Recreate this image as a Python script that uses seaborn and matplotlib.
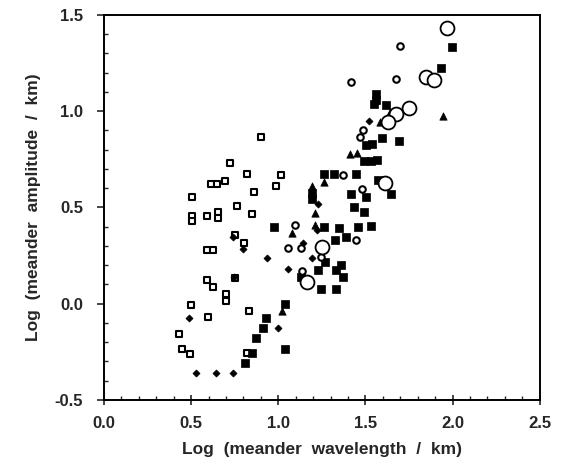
import matplotlib
matplotlib.use("Agg")
import matplotlib.pyplot as plt
import seaborn as sns
import pandas as pd
from matplotlib.ticker import MultipleLocator

# open squares
sq_open_x = [0.898, 0.721, 0.818, 1.018, 0.612, 0.646, 0.692, 0.984, 0.858, 0.503,
             0.761, 0.503, 0.503, 0.589, 0.652, 0.652, 0.847, 0.749, 0.801, 0.589,
             0.624, 0.749, 0.589, 0.624, 0.698, 0.698, 0.498, 0.830, 0.595, 0.429,
             0.446, 0.492, 0.818]
sq_open_y = [0.868, 0.730, 0.672, 0.667, 0.621, 0.621, 0.638, 0.609, 0.580, 0.552,
             0.506, 0.458, 0.432, 0.458, 0.474, 0.443, 0.464, 0.359, 0.313, 0.281,
             0.281, 0.135, 0.125, 0.089, 0.052, 0.016, -0.005, -0.037, -0.069, -0.156,
             -0.234, -0.261, -0.257]

# small filled diamonds
dia_x = [0.738, 0.795, 0.938, 1.144, 1.053, 1.196, 0.744, 1.001, 0.486, 0.526,
         0.641, 0.738, 1.230, 1.224, 1.522]
dia_y = [0.344, 0.286, 0.240, 0.318, 0.182, 0.240, 0.141, -0.124, -0.073, -0.362,
         -0.362, -0.362, 0.517, 0.385, 0.948]

# filled squares
sq_fill_x = [1.997, 1.934, 1.562, 1.562, 1.550, 1.619, 1.596, 1.693, 1.505, 1.539,
             1.493, 1.533, 1.568, 1.264, 1.322, 1.447, 1.573, 1.196, 1.196, 1.419,
             1.505, 1.648, 1.436, 1.493, 0.973, 1.264, 1.350, 1.459, 1.533, 1.327,
             1.390, 1.270, 1.362, 1.333, 1.230, 1.373, 1.133, 1.247, 1.333, 1.041,
             0.927, 0.910, 0.870, 1.041, 0.847, 0.807]
sq_fill_y = [1.335, 1.223, 1.090, 1.058, 1.037, 1.032, 0.862, 0.845, 0.822, 0.828,
             0.741, 0.741, 0.747, 0.672, 0.672, 0.672, 0.644, 0.575, 0.546, 0.569,
             0.552, 0.569, 0.500, 0.474, 0.396, 0.401, 0.391, 0.401, 0.406, 0.333,
             0.349, 0.219, 0.203, 0.177, 0.177, 0.141, 0.141, 0.078, 0.078, 0.000,
             -0.073, -0.124, -0.179, -0.234, -0.257, -0.307]

# filled triangles
tri_x = [1.945, 1.642, 1.585, 1.413, 1.453, 1.196, 1.213, 1.213, 1.076, 1.024, 1.264]
tri_y = [0.977, 0.994, 0.943, 0.776, 0.782, 0.609, 0.469, 0.411, 0.365, -0.037, 0.632]

# small open circles
circ_x = [1.699, 1.419, 1.676, 1.487, 1.470, 1.373, 1.482, 1.098, 1.447, 1.053,
          1.133, 1.247, 1.138]
circ_y = [1.340, 1.154, 1.165, 0.902, 0.868, 0.667, 0.598, 0.411, 0.333, 0.292,
          0.292, 0.245, 0.172]

# large open circles
big_x = [1.968, 1.848, 1.894, 1.751, 1.676, 1.630, 1.613, 1.253, 1.167]
big_y = [1.431, 1.176, 1.160, 1.016, 0.983, 0.943, 0.626, 0.297, 0.115]

sns.set_style("ticks")
plt.rcParams['font.family'] = ['Liberation Sans', 'DejaVu Sans']
plt.rcParams['axes.unicode_minus'] = False

fig = plt.figure(figsize=(5.73, 4.67), dpi=100)
ax = fig.add_axes([0.1815, 0.1435, 0.7605, 0.8245])

groups = [
    (sq_open_x, sq_open_y, "s", 22, "white", 1.5),
    (dia_x, dia_y, "D", 13, "black", 0.5),
    (sq_fill_x, sq_fill_y, "s", 26, "black", 0.5),
    (tri_x, tri_y, "^", 28, "black", 0.5),
    (circ_x, circ_y, "o", 22, "white", 1.5),
    (big_x, big_y, "o", 100, "white", 1.3),
]
for gx, gy, mk, sz, fc, lw in groups:
    df = pd.DataFrame({"x": gx, "y": gy})
    sns.scatterplot(data=df, x="x", y="y", ax=ax, marker=mk, s=sz,
                    color=fc, edgecolor="black", linewidth=lw, zorder=3)

ax.set_xlim(0.0, 2.5)
ax.set_ylim(-0.5, 1.5)
ax.xaxis.set_major_locator(MultipleLocator(0.5))
ax.xaxis.set_minor_locator(MultipleLocator(0.1))
ax.yaxis.set_major_locator(MultipleLocator(0.5))
ax.yaxis.set_minor_locator(MultipleLocator(0.1))
ax.set_xticklabels([f"{v:.1f}" for v in ax.get_xticks()])
ax.set_yticklabels([f"{v:.1f}" for v in ax.get_yticks()])
ax.tick_params(axis="x", which="major", direction="inout", length=7, width=1.2,
               labelsize=12, pad=8)
ax.tick_params(axis="y", which="major", direction="out", length=5, width=1.2,
               labelsize=12, pad=10)
ax.tick_params(which="minor", direction="in", length=3, width=1)
for lab in ax.get_xticklabels() + ax.get_yticklabels():
    lab.set_fontweight("bold")

for sp in ax.spines.values():
    sp.set_linewidth(1.4)
    sp.set_color("black")

ax.set_xlabel("Log  (meander  wavelength  /  km)", fontsize=12.5,
              fontweight="bold", labelpad=8)
ax.set_ylabel("Log  (meander  amplitude  /  km)", fontsize=12.5,
              fontweight="bold", labelpad=10)

fig.savefig("out.png", dpi=100)
plt.close(fig)
